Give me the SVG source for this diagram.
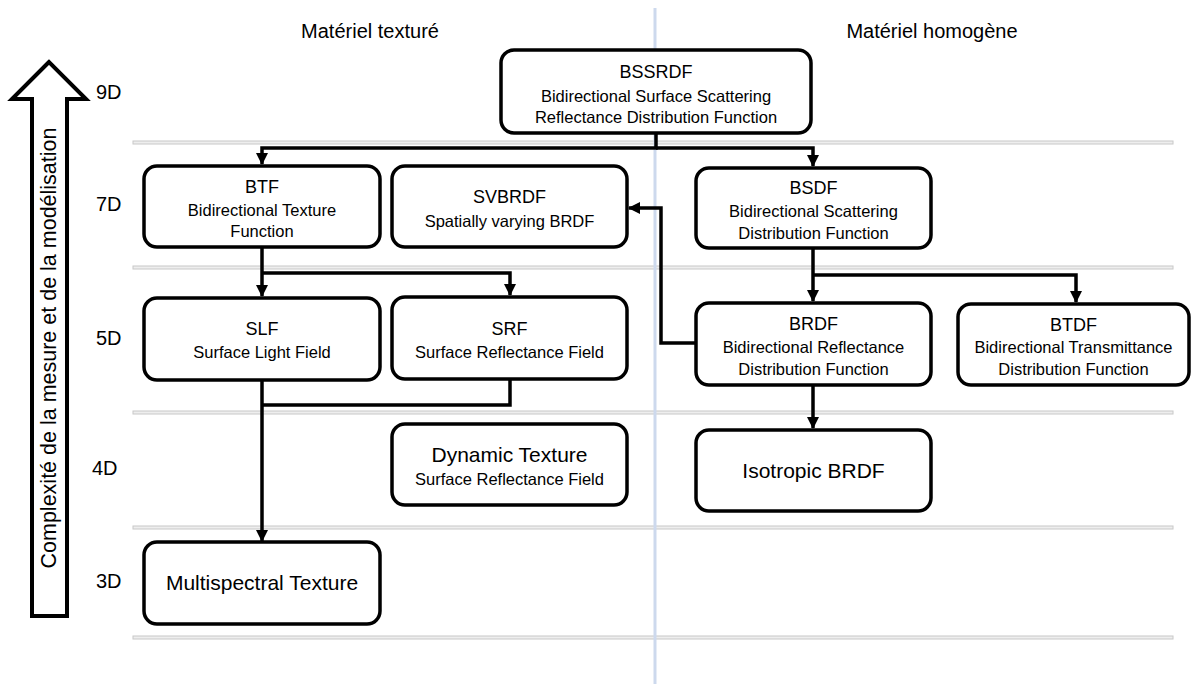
<svg xmlns="http://www.w3.org/2000/svg" width="1192" height="684" viewBox="0 0 1192 684">
<style>
text{font-family:"Liberation Sans",Arial,sans-serif;fill:#000;}
.t{font-size:18px;text-anchor:middle;}
.tb{font-size:21px;text-anchor:middle;}
.s{font-size:16.5px;text-anchor:middle;}
.d{font-size:20px;}
.h{font-size:20px;text-anchor:middle;}
.box{fill:#fff;stroke:#000;stroke-width:3.5;}
.sep{fill:#eeeeee;stroke:#c8c8c8;stroke-width:1;}
.c{fill:none;stroke:#000;stroke-width:3.5;stroke-linejoin:miter;}
</style>
<defs>
<marker id="ah" markerUnits="userSpaceOnUse" markerWidth="12" markerHeight="12" refX="11" refY="6" orient="auto">
<path d="M0,0 L12,6 L0,12 z" fill="#000"/>
</marker>
</defs>
<rect width="1192" height="684" fill="#fff"/>
<g id="grid">
<rect class="sep" x="133" y="141" width="1040" height="3"/>
<rect class="sep" x="133" y="266" width="1040" height="3"/>
<rect class="sep" x="133" y="411" width="1040" height="3"/>
<rect class="sep" x="133" y="526" width="1040" height="3"/>
<rect class="sep" x="133" y="636" width="1040" height="3"/>
<rect x="653.5" y="8" width="3" height="676" fill="#cdd9ed"/>
</g>
<g id="headers">
<text class="h" x="370" y="38">Matériel texturé</text>
<text class="h" x="932" y="38">Matériel homogène</text>
</g>
<g id="axis">
<polygon points="49,62 12,99 32,99 32,616 67,616 67,99 86,99" fill="#fff" stroke="#000" stroke-width="4"/>
<text font-size="21.5" text-anchor="middle" transform="translate(56,348) rotate(-90)">Complexité de la mesure et de la modélisation</text>
<text class="d" x="96" y="99">9D</text>
<text class="d" x="96" y="211">7D</text>
<text class="d" x="96" y="345">5D</text>
<text class="d" x="92" y="475">4D</text>
<text class="d" x="96" y="588">3D</text>
</g>
<g id="connectors">
<path class="c" d="M656,133 V148 H262 V164" marker-end="url(#ah)"/>
<path class="c" d="M656,148 H813 V166" marker-end="url(#ah)"/>
<path class="c" d="M696,343 H661 V208 H629" marker-end="url(#ah)"/>
<path class="c" d="M262,247 V296" marker-end="url(#ah)"/>
<path class="c" d="M262,273 H510 V295" marker-end="url(#ah)"/>
<path class="c" d="M510,379 V405 H262"/>
<path class="c" d="M262,380 V541" marker-end="url(#ah)"/>
<path class="c" d="M813,248 V301" marker-end="url(#ah)"/>
<path class="c" d="M813,275 H1076 V302" marker-end="url(#ah)"/>
<path class="c" d="M813,385 V428" marker-end="url(#ah)"/>
</g>
<g id="BSSRDF">
<rect class="box" x="501" y="50" width="310" height="83" rx="13"/>
<text class="t" x="656" y="78">BSSRDF</text>
<text class="s" x="656" y="102">Bidirectional Surface Scattering</text>
<text class="s" x="656" y="123">Reflectance Distribution Function</text>
</g>
<g id="BTF">
<rect class="box" x="144" y="166" width="236" height="81" rx="13"/>
<text class="t" x="262" y="193">BTF</text>
<text class="s" x="262" y="216">Bidirectional Texture</text>
<text class="s" x="262" y="237">Function</text>
</g>
<g id="SVBRDF">
<rect class="box" x="392" y="166" width="235" height="81" rx="13"/>
<text class="t" x="509.5" y="203">SVBRDF</text>
<text class="s" x="509.5" y="227">Spatially varying BRDF</text>
</g>
<g id="BSDF">
<rect class="box" x="696" y="168" width="235" height="80" rx="13"/>
<text class="t" x="813.5" y="194">BSDF</text>
<text class="s" x="813.5" y="217">Bidirectional Scattering</text>
<text class="s" x="813.5" y="239">Distribution Function</text>
</g>
<g id="SLF">
<rect class="box" x="144" y="298" width="236" height="82" rx="13"/>
<text class="t" x="262" y="335">SLF</text>
<text class="s" x="262" y="358">Surface Light Field</text>
</g>
<g id="SRF">
<rect class="box" x="392" y="297" width="235" height="82" rx="13"/>
<text class="t" x="509.5" y="335">SRF</text>
<text class="s" x="509.5" y="358">Surface Reflectance Field</text>
</g>
<g id="BRDF">
<rect class="box" x="696" y="303" width="235" height="82" rx="13"/>
<text class="t" x="813.5" y="330">BRDF</text>
<text class="s" x="813.5" y="353">Bidirectional Reflectance</text>
<text class="s" x="813.5" y="375">Distribution Function</text>
</g>
<g id="BTDF">
<rect class="box" x="958" y="304" width="231" height="81" rx="13"/>
<text class="t" x="1073.5" y="331">BTDF</text>
<text class="s" x="1073.5" y="353">Bidirectional Transmittance</text>
<text class="s" x="1073.5" y="375">Distribution Function</text>
</g>
<g id="DynamicTexture">
<rect class="box" x="392" y="424" width="235" height="81" rx="13"/>
<text class="tb" x="509.5" y="462">Dynamic Texture</text>
<text class="s" x="509.5" y="485">Surface Reflectance Field</text>
</g>
<g id="IsotropicBRDF">
<rect class="box" x="696" y="430" width="235" height="81" rx="13"/>
<text class="tb" x="813.5" y="478">Isotropic BRDF</text>
</g>
<g id="MultispectralTexture">
<rect class="box" x="144" y="542" width="236" height="82" rx="13"/>
<text class="tb" x="262" y="590">Multispectral Texture</text>
</g>
</svg>
